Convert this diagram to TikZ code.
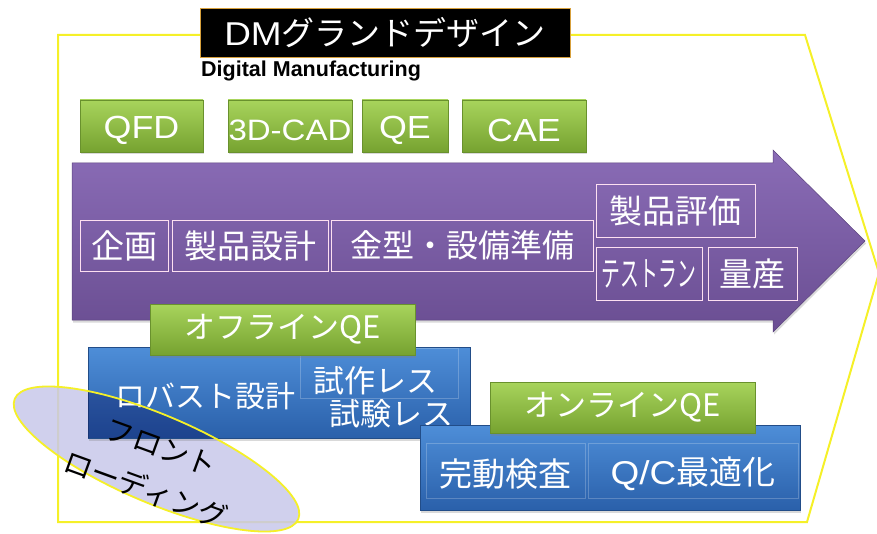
\documentclass[tikz,border=0pt]{standalone}
\usepackage{fontspec}
\usetikzlibrary{shadows,shapes.geometric}
\newfontfamily\jp{Noto Sans CJK JP}
\newfontfamily\lat[FakeStretch=1.12]{Liberation Sans}
\newfontfamily\latb{Liberation Sans}
\newcommand\fsz[1]{\fontsize{#1}{#1}\selectfont}
\definecolor{ylw}{RGB}{245,240,40}
\definecolor{gtop}{RGB}{168,212,92}
\definecolor{gbot}{RGB}{118,162,48}
\definecolor{gedge}{RGB}{105,145,45}
\definecolor{ptop}{RGB}{138,108,182}
\definecolor{pbot}{RGB}{106,78,146}
\definecolor{btop}{RGB}{78,142,216}
\definecolor{bbot}{RGB}{42,96,170}
\definecolor{lav}{RGB}{200,200,234}
\definecolor{tedge}{RGB}{215,160,60}
\tikzset{
  shd/.style={drop shadow={opacity=0.3,shadow xshift=1pt,shadow yshift=-2.5pt}},
  gbox/.style={rectangle,inner sep=0,top color=gtop,bottom color=gbot,draw=gedge,line width=0.6pt,text=white,shd},
  wbox/.style={rectangle,inner sep=0,draw=white!88!magenta,line width=0.9pt,text=white},
  bbox/.style={rectangle,inner sep=0,top color=btop,bottom color=bbot,draw=bbot!80!black,line width=0.5pt,text=white,shd},
  faint/.style={rectangle,inner sep=0,draw=white,draw opacity=0.22,line width=0.8pt},
  txt/.style={inner sep=0,text=white},
  fltxt/.style={inner sep=0,rotate=-20,text=black,font={\jp\fsz{29}}},
}
\begin{document}
\begin{tikzpicture}[x=1pt,y=-1pt]
\useasboundingbox (0,0) rectangle (877,534);
% yellow frame
\draw[ylw,line width=2pt,line join=miter] (58,35) -- (805,35) -- (879,273) -- (807,522) -- (58,522) -- cycle;
% title
\node[rectangle,inner sep=0,fill=black,draw=tedge,line width=0.8pt,minimum width=370,minimum height=49,text=white] (title) at (385,32.5) {\lat\fsz{33}DM\jp グランドデザイン};
\node[anchor=base west,inner sep=0] (dm) at (201,77) {\latb\bfseries\fsz{21.5}Digital Manufacturing};
% tools
\node[gbox,minimum width=123,minimum height=52] (qfd) at (141.5,126) {};
\node[txt] (qfdt) at (141.5,130) {\lat\fsz{32}QFD};
\node[gbox,minimum width=124,minimum height=52] (cad) at (290,126) {};
\node[txt] (cadt) at (290,130) {\lat\fsz{29.5}3D-CAD};
\node[gbox,minimum width=86,minimum height=52] (qe) at (405,126) {};
\node[txt] (qet) at (405,130) {\lat\fsz{32}QE};
\node[gbox,minimum width=124,minimum height=52] (cae) at (524,126) {};
\node[txt] (caet) at (524,130) {\lat\fsz{32}CAE};
% process arrow
\coordinate (ptip) at (865,241);
\path[shd,top color=ptop,bottom color=pbot,draw=pbot!85!black,line width=0.5pt]
  (72,163) -- (773,163) -- (773,150) -- (ptip) -- (773,332) -- (773,320) -- (72,320) -- cycle;
\node[wbox,minimum width=88,minimum height=51] (kikaku) at (124,245.5) {\jp\fsz{33}企画};
\node[wbox,minimum width=156,minimum height=51] (sekkei) at (250,245.5) {\jp\fsz{33}製品設計};
\node[wbox,minimum width=262,minimum height=51] (kanagata) at (462,245.5) {\jp\fsz{32}金型・設備準備};
\node[wbox,minimum width=159,minimum height=53] (hyoka) at (675.5,210.5) {\jp\fsz{33}製品評価};
\node[wbox,minimum width=106,minimum height=53] (test) at (649,273.5) {\jp\fsz{33}\scalebox{0.57}[1.05]{テストラン}};
\node[wbox,minimum width=89,minimum height=53] (ryosan) at (752.5,273.5) {\jp\fsz{33}量産};
% front loading ellipse (fill)
\coordinate (ec) at (156.5,459);
\fill[lav,opacity=0.85,rotate around={-23:(ec)}] (ec) ellipse [x radius=154, y radius=44];
% offline block
\node[bbox,minimum width=382,minimum height=91] (robust) at (279,392.5) {};
\node[faint,minimum width=158,minimum height=50] (shisaku) at (379,373.5) {};
\begin{scope}
  \clip[rotate around={-23:(ec)}] (ec) ellipse [x radius=154, y radius=44];
  \fill[black!70!blue,opacity=0.3] (robust.north west) rectangle (robust.south east);
\end{scope}
\node[txt] (robtxt) at (205,396) {\jp\fsz{30}ロバスト設計};
\node[txt] (shtxt) at (375,381) {\jp\fsz{31}試作レス};
\node[txt] (shktxt) at (391,414) {\jp\fsz{31}試験レス};
\node[gbox,minimum width=265,minimum height=51] (offqe) at (282.5,329.5) {\jp\fsz{31}オフラインQE};
% online block
\node[bbox,minimum width=380,minimum height=85] (online) at (610,467.5) {};
\node[faint,minimum width=159,minimum height=55] (kando) at (505.5,470.5) {};
\node[faint,minimum width=210,minimum height=55] (qc) at (693,470.5) {};
\node[txt] (kandotxt) at (505,474) {\jp\fsz{33}完動検査};
\node[txt] (qctxt) at (693,474) {\lat\fsz{33}Q/C\jp 最適化};
\node[gbox,minimum width=265,minimum height=51] (onqe) at (622.5,407.5) {\jp\fsz{31}オンラインQE};
% ellipse border and text
\draw[ylw,line width=1.8pt,rotate around={-23:(ec)}] (ec) ellipse [x radius=154, y radius=44];
\node[fltxt] (fl1) at (161,447) {フロント};
\node[fltxt] (fl2) at (146,489) {ローディング};
\end{tikzpicture}
\end{document}
